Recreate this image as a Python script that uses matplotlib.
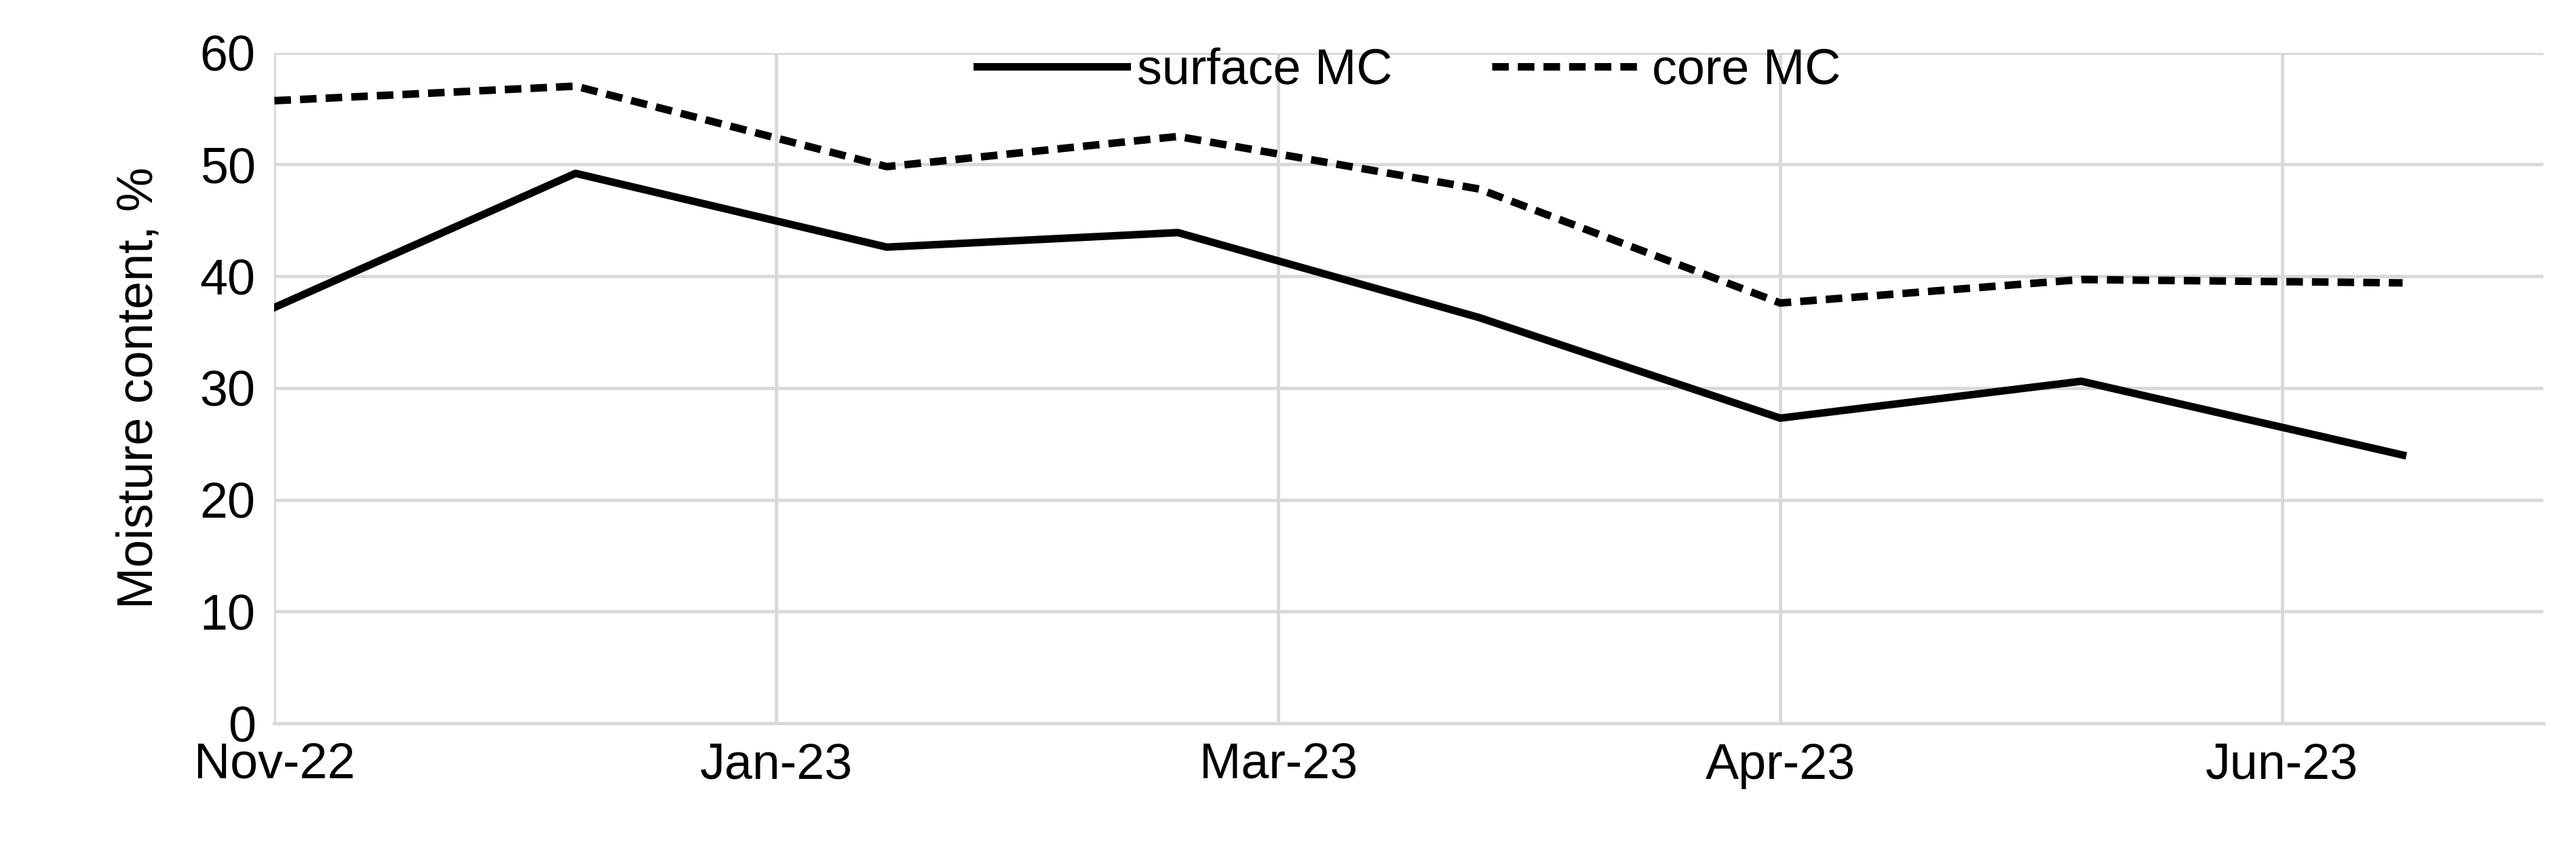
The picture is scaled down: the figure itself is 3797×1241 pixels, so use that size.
import matplotlib
matplotlib.use("Agg")
import matplotlib.pyplot as plt

days = [0, 30, 61, 90, 120, 150, 180, 212]
surface = [37.2, 49.2, 42.6, 43.9, 36.3, 27.3, 30.6, 24.0]
core = [55.7, 57.0, 49.8, 52.5, 47.8, 37.6, 39.7, 39.4]
tick_days = [0, 50, 100, 150, 200]
tick_labels = ["Nov-22", "Jan-23", "Mar-23", "Apr-23", "Jun-23"]

plt.rcParams['font.family'] = ['Liberation Sans', 'DejaVu Sans']
fig = plt.figure(figsize=(37.98, 12.41), dpi=100)
ax = fig.add_axes([0.1065, 0.141, 0.8805, 0.7965])
ax.plot(days, surface, color='black', lw=8, label='surface MC')
ax.plot(days, core, color='black', lw=8, ls=(0, (2.2, 1.2)), label='core MC')
ax.set_xlim(0, 226)
ax.set_ylim(0, 60)
ax.set_yticks(range(0, 61, 10))
ax.set_xticks(tick_days)
ax.set_xticklabels(tick_labels)
ax.grid(True, color='#d9d9d9', lw=3.5)
ax.set_axisbelow(True)
for s in ['top', 'right', 'left']:
    ax.spines[s].set_visible(False)
ax.spines['bottom'].set_color('#d9d9d9')
ax.spines['bottom'].set_linewidth(3.5)
ax.tick_params(axis='both', labelsize=53, length=0, pad=20)
ax.set_ylabel('Moisture content, %', fontsize=53, labelpad=40)
ax.legend(loc='upper center', bbox_to_anchor=(0.5, 1.075), ncol=2, frameon=False,
          fontsize=53, handlelength=3, columnspacing=2.0, handletextpad=0.2)
fig.savefig('out.png', dpi=100)
